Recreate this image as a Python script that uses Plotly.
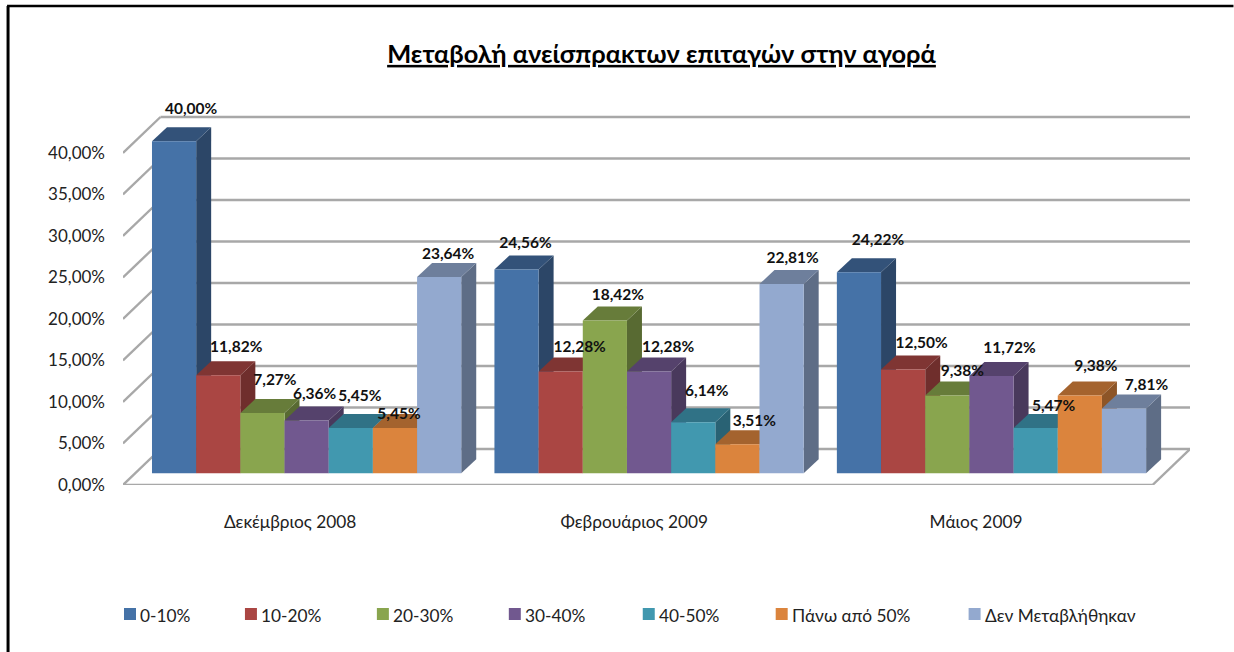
import plotly.graph_objects as go

# ---- data ----
months = ["Δεκέμβριος 2008", "Φεβρουάριος 2009", "Μάιος 2009"]
series_names = ["0-10%", "10-20%", "20-30%", "30-40%", "40-50%", "Πάνω από 50%", "Δεν Μεταβλήθηκαν"]
v_0_10 = [40.00, 24.56, 24.22]
v_10_20 = [11.82, 12.28, 12.50]
v_20_30 = [7.27, 18.42, 9.38]
v_30_40 = [6.36, 12.28, 11.72]
v_40_50 = [5.45, 6.14, 5.47]
v_over_50 = [5.45, 3.51, 9.38]
v_unchanged = [23.64, 22.81, 7.81]
y_ticks = [0, 5, 10, 15, 20, 25, 30, 35, 40]
title_text = "Μεταβολή ανείσπρακτων επιταγών στην αγορά"

# ---- style ----
front = ["#4572A7", "#AA4643", "#89A54E", "#71588F", "#4198AF", "#DB843D", "#93A9CF"]
top = ["#335279", "#7F3533", "#677C3A", "#55426C", "#307286", "#A4632E", "#6E7F9C"]
side = ["#2C4667", "#6F2E2C", "#586A32", "#49395C", "#296274", "#8D5527", "#5E6D86"]
grid = "#A8A8A8"
FONT = "Lato, Roboto, sans-serif"
W, H = 1234, 652
L, R, T, B = 123, 1190.5, 90, 485
BACK_TOP = 117
PX_X = 342.6      # pixels per category
PX_Y = 8.3        # pixels per percent
BAR = 44.2 / PX_X
BASE = 11.7 / PX_Y
WALL_X, WALL_Y = 37.5 / PX_X, 36 / PX_Y
DEPTH_X, DEPTH_Y = 15 / PX_X, 14 / PX_Y
X0 = -0.5
X1 = X0 + (R - L) / PX_X
Y1 = (B - T) / PX_Y
START = X0 + (152 - L) / PX_X

series = [v_0_10, v_10_20, v_20_30, v_30_40, v_40_50, v_over_50, v_unchanged]
# label offset from the centre of each bar's top edge, pixels
label_dx = [[17, 18, 12.5, 8, 9, 4, 9], [9, 19, 13, 19, 13.5, 17, 11], [19, 18.5, 15, 18, 18, 16, 22.5]]
label_dy = [[-31, -27, -32, -25.5, -31, -13, -22], [-25, -23, -24, -23, -30, -22, -25], [-31, -25.5, -23, -27, -21, -28, -22.5]]

shapes = []
def line(x0, y0, x1, y1):
    shapes.append(dict(type="line", xref="x", yref="y", x0=x0, y0=y0, x1=x1, y1=y1,
                       line=dict(color=grid, width=2.4), layer="below"))
# walls and floor
for t in y_ticks:
    line(X0 + WALL_X, t + WALL_Y, X1, t + WALL_Y)
    line(X0, t, X0 + WALL_X, t + WALL_Y)
line(X0, 0, X1 - WALL_X, 0)
line(X1 - WALL_X, 0, X1, WALL_Y)

def poly(pts, color):
    path = "M " + " L ".join(f"{a:.5f} {b:.4f}" for a, b in pts) + " Z"
    shapes.append(dict(type="path", xref="x", yref="y", path=path, fillcolor=color,
                       line=dict(width=0), layer="below"))

fig = go.Figure()
n = len(series)
for g in range(len(months)):
    for i in range(n):
        v = series[i][g]
        left = g + START + i * BAR
        right = left + BAR
        h = BASE + v
        poly([(right, BASE), (right + DEPTH_X, BASE + DEPTH_Y), (right + DEPTH_X, h + DEPTH_Y), (right, h)], side[i])
        poly([(left, h), (left + DEPTH_X, h + DEPTH_Y), (right + DEPTH_X, h + DEPTH_Y), (right, h)], top[i])

for i, name in enumerate(series_names):
    xs = [g + START + (i + 0.5) * BAR for g in range(len(months))]
    fig.add_trace(go.Bar(x=xs, y=series[i], base=BASE, width=BAR, name=name,
                         marker=dict(color=front[i], line=dict(width=0)), showlegend=False))
for i, name in enumerate(series_names):
    xs = [g + START + (i + 0.5) * BAR + label_dx[g][i] / PX_X for g in range(len(months))]
    ys = [BASE + series[i][g] - label_dy[g][i] / PX_Y for g in range(len(months))]
    txt = [f"{v:.2f}".replace(".", ",") + "%" for v in series[i]]
    fig.add_trace(go.Scatter(x=xs, y=ys, mode="text", text=txt, textposition="middle center", cliponaxis=False,
                             textfont=dict(family=FONT, size=15.5, color="#111111", weight="bold"),
                             showlegend=False, hoverinfo="skip"))

# paper helpers for frame and legend
def px(x):
    return (x - L) / (R - L)
def py(y):
    return (B - y) / (B - T)

# frame
shapes.append(dict(type="line", xref="paper", yref="paper", x0=px(8), x1=px(8), y0=py(6), y1=py(652),
                   line=dict(color="#000000", width=3)))
shapes.append(dict(type="line", xref="paper", yref="paper", x0=px(7), x1=px(1234), y0=py(6), y1=py(6),
                   line=dict(color="#000000", width=2.5)))

# legend
annotations = []
swatch_x = [124, 245, 377, 509, 643, 776, 969]
for i, name in enumerate(series_names):
    sx = swatch_x[i]
    shapes.append(dict(type="rect", xref="paper", yref="paper", x0=px(sx), x1=px(sx + 12), y0=py(620), y1=py(608),
                       fillcolor=front[i], line=dict(width=0)))
    annotations.append(dict(xref="paper", yref="paper", x=px(sx + 14), y=py(615), xanchor="left", yanchor="middle",
                            text=name, showarrow=False, font=dict(family=FONT, size=17.3, color="#222222")))

fig.update_layout(
    width=W, height=H, autosize=False,
    margin=dict(l=L, r=W - R, t=T, b=H - B, pad=0),
    paper_bgcolor="white", plot_bgcolor="white",
    barmode="overlay", showlegend=False,
    shapes=shapes, annotations=annotations,
    title=dict(text=f"<u>{title_text}</u>", x=661.5 / W, xanchor="center", y=1 - 54 / H, yanchor="middle",
               font=dict(family=FONT, size=25.4, color="#000000", weight="bold")),
    xaxis=dict(range=[X0, X1], tickvals=[-0.012, 0.993, 1.991], ticktext=months, showgrid=False, zeroline=False,
               showline=False, ticks="", ticklabelstandoff=25,
               tickfont=dict(family=FONT, size=17.3, color="#222222")),
    yaxis=dict(range=[0, Y1], tickvals=y_ticks, ticktext=[f"{t:.2f}".replace(".", ",") + "%" for t in y_ticks],
               showgrid=False, zeroline=False, showline=False, ticks="", ticklabelstandoff=17,
               tickfont=dict(family=FONT, size=17, color="#222222")),
)
fig.write_html("out.html", config={"displayModeBar": False},
               post_script="document.body.style.margin='0';document.documentElement.style.overflow='hidden';")
